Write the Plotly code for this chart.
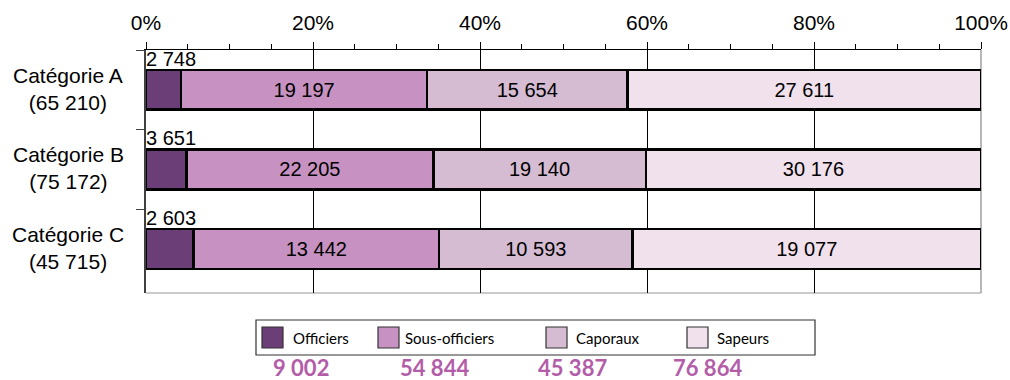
import plotly.graph_objects as go

# Data: effectifs par grade et par catégorie
categories = ["Catégorie A", "Catégorie B", "Catégorie C"]
grades = ["Officiers", "Sous-officiers", "Caporaux", "Sapeurs"]
officiers = [2748, 3651, 2603]
sous_officiers = [19197, 22205, 13442]
caporaux = [15654, 19140, 10593]
sapeurs = [27611, 30176, 19077]
x_tick_vals = [0, 20, 40, 60, 80, 100]
x_tick_text = [f"{v}%" for v in x_tick_vals]

series = [officiers, sous_officiers, caporaux, sapeurs]
colors = ["#6b3e78", "#c792c1", "#d5bcd3", "#f1e1ed"]

SANS = "Liberation Sans"


def fmt(v):
    return f"{v:,}".replace(",", " ")


cat_totals = [sum(s[i] for s in series) for i in range(len(categories))]
grade_totals = [sum(s) for s in series]

# Plot-area geometry (pixels) used to place the custom legend
W, H = 1010, 380
ML, MR, MT, MB = 146, 29, 50, 87
PW, PH = W - ML - MR, H - MT - MB


def px(x):
    return (x - ML) / PW


def py(y):
    return (H - MB - y) / PH


fig = go.Figure()
for i, (name, vals) in enumerate(zip(grades, series)):
    fig.add_trace(go.Bar(
        name=name,
        y=categories,
        x=vals,
        orientation="h",
        marker=dict(color=colors[i], line=dict(color="black", width=2.6)),
        text=[fmt(v) for v in vals] if i > 0 else None,
        textposition="inside" if i > 0 else "none",
        insidetextanchor="middle",
        textangle=0,
        constraintext="none",
        textfont=dict(family=SANS, size=20, color="black"),
        showlegend=False,
        hoverinfo="skip",
    ))

annotations = []
# Officer counts written above the thin first segment
for cat, v in zip(categories, officiers):
    annotations.append(dict(
        x=0, y=cat, xref="x", yref="y", text=fmt(v), showarrow=False,
        xanchor="left", yanchor="bottom", yshift=18, xshift=-2,
        font=dict(family=SANS, size=20, color="black"),
    ))
# Category labels with their totals, centred on two lines
for cat, tot in zip(categories, cat_totals):
    annotations.append(dict(
        x=0, y=cat, xref="paper", yref="y", xshift=-78, yshift=1,
        text=f"{cat}<br>({fmt(tot)})", showarrow=False, align="center",
        xanchor="center", yanchor="middle",
        font=dict(family=SANS, size=21, color="black"),
    ))

shapes = []
# Legend frame
shapes.append(dict(type="rect", xref="paper", yref="paper",
                   x0=px(256), x1=px(815), y0=py(320), y1=py(355),
                   line=dict(color="#333333", width=1.2), fillcolor="white"))
sq_x = [262, 378, 546, 687]
txt_x = [291, 403, 574, 715]
tot_x = [301, 434, 572, 707]
for i, name in enumerate(grades):
    shapes.append(dict(type="rect", xref="paper", yref="paper",
                       x0=px(sq_x[i]), x1=px(sq_x[i] + 21),
                       y0=py(327), y1=py(348),
                       line=dict(color="#333333", width=1.2),
                       fillcolor=colors[i]))
    annotations.append(dict(
        x=px(txt_x[i]), y=py(337.5), xref="paper", yref="paper",
        text=name, showarrow=False, xanchor="left", yanchor="middle",
        font=dict(family="Lato", size=15, color="black"),
    ))
    annotations.append(dict(
        x=px(tot_x[i]), y=py(367), xref="paper", yref="paper",
        text=f"<b>{fmt(grade_totals[i])}</b>", showarrow=False,
        xanchor="center", yanchor="middle",
        font=dict(family="Lato", size=22, color="#b35ca8"),
    ))

# Light frame lines on the bottom and right of the plot area
shapes.append(dict(type="line", xref="paper", yref="paper", x0=0, x1=1,
                   y0=0, y1=0, line=dict(color="#b8b8b8", width=1.5),
                   layer="between"))
shapes.append(dict(type="line", xref="paper", yref="paper", x0=1, x1=1,
                   y0=0, y1=1, line=dict(color="#a0a0a0", width=1.5),
                   layer="between"))

fig.update_layout(
    barmode="stack",
    barnorm="percent",
    bargap=0.5,
    width=W, height=H,
    margin=dict(l=ML, r=MR, t=MT, b=MB, autoexpand=False),
    plot_bgcolor="white",
    paper_bgcolor="white",
    annotations=annotations,
    shapes=shapes,
    showlegend=False,
)
fig.update_xaxes(
    side="top", range=[0, 100], tickmode="array",
    tickvals=x_tick_vals, ticktext=x_tick_text,
    ticks="outside", ticklen=7, tickcolor="black", tickwidth=1,
    ticklabelstandoff=4, automargin=False,
    showline=True, linecolor="black", linewidth=1,
    showgrid=True, gridcolor="black", gridwidth=1, zeroline=False,
    minor=dict(dtick=5, tick0=0, ticks="outside", ticklen=5,
               tickcolor="black", showgrid=False),
    tickfont=dict(family=SANS, size=21, color="black"),
    fixedrange=True,
)
fig.update_yaxes(
    autorange="reversed", tickson="boundaries", ticks="outside", ticklen=8,
    tickcolor="#404040", showline=True, linecolor="#404040", linewidth=1.5,
    showticklabels=False, showgrid=False, zeroline=False, fixedrange=True,
    automargin=False,
)

fig.write_html("out.html", config={"displayModeBar": False})
